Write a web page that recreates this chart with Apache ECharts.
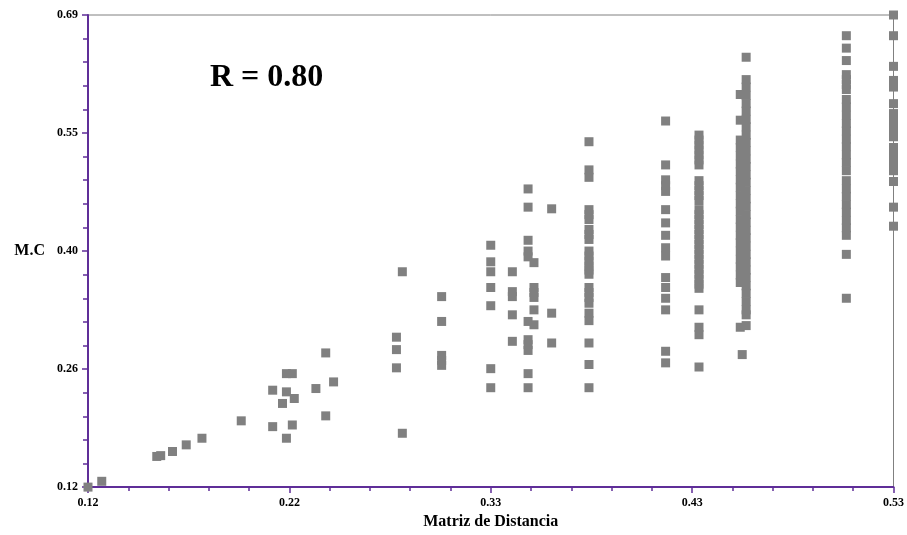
<!DOCTYPE html>
<html>
<head>
<meta charset="utf-8">
<script src="https://cdn.jsdelivr.net/npm/echarts@6/dist/echarts.min.js"></script>
<style>
html,body{margin:0;padding:0;background:#fff;}
#chart{width:907px;height:535px;}
</style>
</head>
<body>
<div id="chart"></div>
<script>
// X tick labels (rounded as in the reference) and Y tick labels
const xTickLabels = ['0.12', '0.22', '0.33', '0.43', '0.53'];
const yTickLabels = ['0.12', '0.26', '0.40', '0.55', '0.69'];

// Matriz de Distancia (x) values, paired in order with M.C (y) values
const matrizDistancia = [
  0.120, 0.127, 0.155, 0.157, 0.163, 0.170, 0.178, 0.198,
  0.214, 0.214, 0.219, 0.221, 0.224, 0.221, 0.225, 0.224, 0.221, 0.236, 0.241, 0.245, 0.241,
  0.277, 0.277, 0.277, 0.280, 0.280,
  0.300, 0.300, 0.300, 0.300, 0.300,
  0.325, 0.325, 0.325, 0.325, 0.325, 0.325, 0.325,
  0.336, 0.336, 0.336, 0.336, 0.336,
  0.344, 0.344, 0.344, 0.344, 0.344, 0.344, 0.344, 0.344, 0.344, 0.344, 0.344,
  0.347, 0.347, 0.347, 0.347, 0.347, 0.347,
  0.356, 0.356, 0.356,
  0.375, 0.375, 0.375, 0.375, 0.375, 0.375, 0.375, 0.375, 0.375, 0.375, 0.375, 0.375,
  0.375, 0.375, 0.375, 0.375, 0.375, 0.375, 0.375, 0.375, 0.375, 0.375, 0.375, 0.375,
  0.414, 0.414, 0.414, 0.414, 0.414, 0.414, 0.414, 0.414, 0.414, 0.414, 0.414, 0.414,
  0.414, 0.414, 0.414, 0.414,
  0.431, 0.431, 0.431, 0.431, 0.431, 0.431, 0.431,
  0.431, 0.431, 0.431, 0.431, 0.431,
  0.431, 0.431, 0.431, 0.431, 0.431, 0.431, 0.431, 0.431, 0.431, 0.431, 0.431, 0.431,
  0.431, 0.431, 0.431, 0.431, 0.431,
  0.431, 0.431, 0.431, 0.431,
  0.452, 0.452, 0.452, 0.452, 0.452, 0.452, 0.452, 0.452, 0.452, 0.452, 0.452, 0.452,
  0.452, 0.452, 0.452, 0.452, 0.452, 0.452, 0.452, 0.452, 0.452, 0.452, 0.453,
  0.455, 0.455, 0.455, 0.455, 0.455, 0.455, 0.455, 0.455, 0.455, 0.455, 0.455, 0.455,
  0.455, 0.455, 0.455, 0.455, 0.455, 0.455, 0.455, 0.455, 0.455, 0.455, 0.455, 0.455,
  0.455, 0.455, 0.455, 0.455, 0.455, 0.455, 0.455, 0.455, 0.455,
  0.506, 0.506, 0.506, 0.506, 0.506, 0.506, 0.506, 0.506, 0.506, 0.506, 0.506, 0.506,
  0.506, 0.506, 0.506, 0.506, 0.506, 0.506, 0.506, 0.506, 0.506, 0.506, 0.506, 0.506,
  0.506, 0.506, 0.506,
  0.530, 0.530, 0.530, 0.530, 0.530, 0.530, 0.530, 0.530, 0.530, 0.530, 0.530, 0.530,
  0.530, 0.530, 0.530, 0.530, 0.530, 0.530, 0.530, 0.530, 0.530
];

const mc = [
  0.120, 0.127, 0.157, 0.158, 0.163, 0.171, 0.179, 0.200,
  0.237, 0.193, 0.221, 0.257, 0.257, 0.235, 0.227, 0.195, 0.179, 0.239, 0.282, 0.247, 0.206,
  0.301, 0.286, 0.264, 0.380, 0.185,
  0.350, 0.320, 0.279, 0.273, 0.267,
  0.412, 0.392, 0.380, 0.361, 0.339, 0.263, 0.240,
  0.380, 0.356, 0.350, 0.328, 0.296,
  0.480, 0.458, 0.418, 0.405, 0.398, 0.320, 0.298, 0.292, 0.285, 0.257, 0.240,
  0.391, 0.361, 0.355, 0.349, 0.334, 0.316,
  0.456, 0.330, 0.294,
  0.537, 0.503, 0.494, 0.455, 0.449, 0.443, 0.431, 0.425, 0.419, 0.405, 0.399, 0.393,
  0.387, 0.382, 0.377, 0.361, 0.355, 0.349, 0.342, 0.330, 0.321, 0.294, 0.268, 0.240,
  0.562, 0.509, 0.491, 0.484, 0.477, 0.455, 0.439, 0.424, 0.409, 0.399, 0.373, 0.361,
  0.348, 0.334, 0.284, 0.270,
  0.545, 0.539, 0.533, 0.527, 0.521, 0.515, 0.509,
  0.490, 0.484, 0.478, 0.472, 0.466,
  0.455, 0.449, 0.443, 0.437, 0.431, 0.425, 0.419, 0.413, 0.407, 0.401, 0.395, 0.389,
  0.383, 0.377, 0.371, 0.365, 0.360,
  0.334, 0.313, 0.304, 0.265,
  0.594, 0.563, 0.539, 0.530, 0.520, 0.510, 0.501, 0.491, 0.482, 0.472, 0.462, 0.453,
  0.443, 0.434, 0.424, 0.415, 0.405, 0.395, 0.386, 0.376, 0.367, 0.313, 0.280,
  0.639, 0.612, 0.603, 0.593, 0.583, 0.574, 0.564, 0.555, 0.545, 0.536, 0.526, 0.516,
  0.507, 0.497, 0.488, 0.478, 0.468, 0.459, 0.449, 0.440, 0.430, 0.421, 0.411, 0.401,
  0.392, 0.382, 0.373, 0.363, 0.354, 0.344, 0.334, 0.328, 0.315,
  0.665, 0.650, 0.635, 0.618, 0.612, 0.606, 0.600, 0.588, 0.579, 0.569, 0.559, 0.550,
  0.540, 0.531, 0.521, 0.512, 0.502, 0.490, 0.480, 0.471, 0.461, 0.452, 0.442, 0.433,
  0.424, 0.401, 0.348,
  0.690, 0.665, 0.628, 0.611, 0.603, 0.583, 0.571, 0.565, 0.559, 0.553, 0.548, 0.543,
  0.530, 0.524, 0.518, 0.512, 0.507, 0.502, 0.489, 0.458, 0.435
];

const xMin = 0.12, xMax = 0.53, xStep = 0.1025;
const yMin = 0.12, yMax = 0.69, yStep = 0.1425;

const points = matrizDistancia.map((x, i) => [x, mc[i]]);

const axisPurple = '#5f2e98';
const serif = '"Liberation Serif", "Times New Roman", serif';

const chart = echarts.init(document.getElementById('chart'), null, {renderer: 'canvas'});
chart.setOption({
  animation: false,
  backgroundColor: '#ffffff',
  grid: {
    left: 88, right: 8, top: 15, bottom: 43,
    show: true, borderColor: '#808080', borderWidth: 1, backgroundColor: 'transparent'
  },
  graphic: [{
    type: 'text',
    left: 210, top: 62,
    style: {
      text: 'R = 0.80',
      font: 'bold 32px ' + serif,
      fill: '#000'
    }
  }],
  xAxis: {
    type: 'value',
    min: xMin, max: xMax, interval: xStep,
    name: 'Matriz de Distancia',
    nameLocation: 'middle',
    nameGap: 25,
    nameTextStyle: {fontFamily: serif, fontWeight: 'bold', fontSize: 16, color: '#000'},
    axisLine: {show: true, onZero: false, lineStyle: {color: axisPurple, width: 2}},
    axisTick: {show: true, length: 6, lineStyle: {color: axisPurple, width: 1.5}},
    minorTick: {show: true, splitNumber: 5, length: 4, lineStyle: {color: axisPurple, width: 1.5}},
    splitLine: {show: false},
    axisLabel: {
      margin: 10,
      fontFamily: serif, fontWeight: 'bold', fontSize: 12, color: '#000',
      formatter: v => xTickLabels[Math.round((v - xMin) / xStep)]
    }
  },
  yAxis: {
    type: 'value',
    min: yMin, max: yMax, interval: yStep,
    name: 'M.C',
    nameLocation: 'middle',
    nameRotate: 0,
    nameGap: 43,
    nameTextStyle: {fontFamily: serif, fontWeight: 'bold', fontSize: 16, color: '#000', align: 'right'},
    axisLine: {show: true, onZero: false, lineStyle: {color: axisPurple, width: 2}},
    axisTick: {show: true, length: 6, lineStyle: {color: axisPurple, width: 1.5}},
    minorTick: {show: true, splitNumber: 5, length: 5, lineStyle: {color: axisPurple, width: 1.5}},
    splitLine: {show: false},
    axisLabel: {
      margin: 10,
      fontFamily: serif, fontWeight: 'bold', fontSize: 12, color: '#000',
      formatter: v => yTickLabels[Math.round((v - yMin) / yStep)]
    }
  },
  series: [{
    type: 'scatter',
    data: points,
    symbol: 'rect',
    symbolSize: 9,
    clip: false,
    itemStyle: {color: '#808080', opacity: 1}
  }]
});
</script>
</body>
</html>
